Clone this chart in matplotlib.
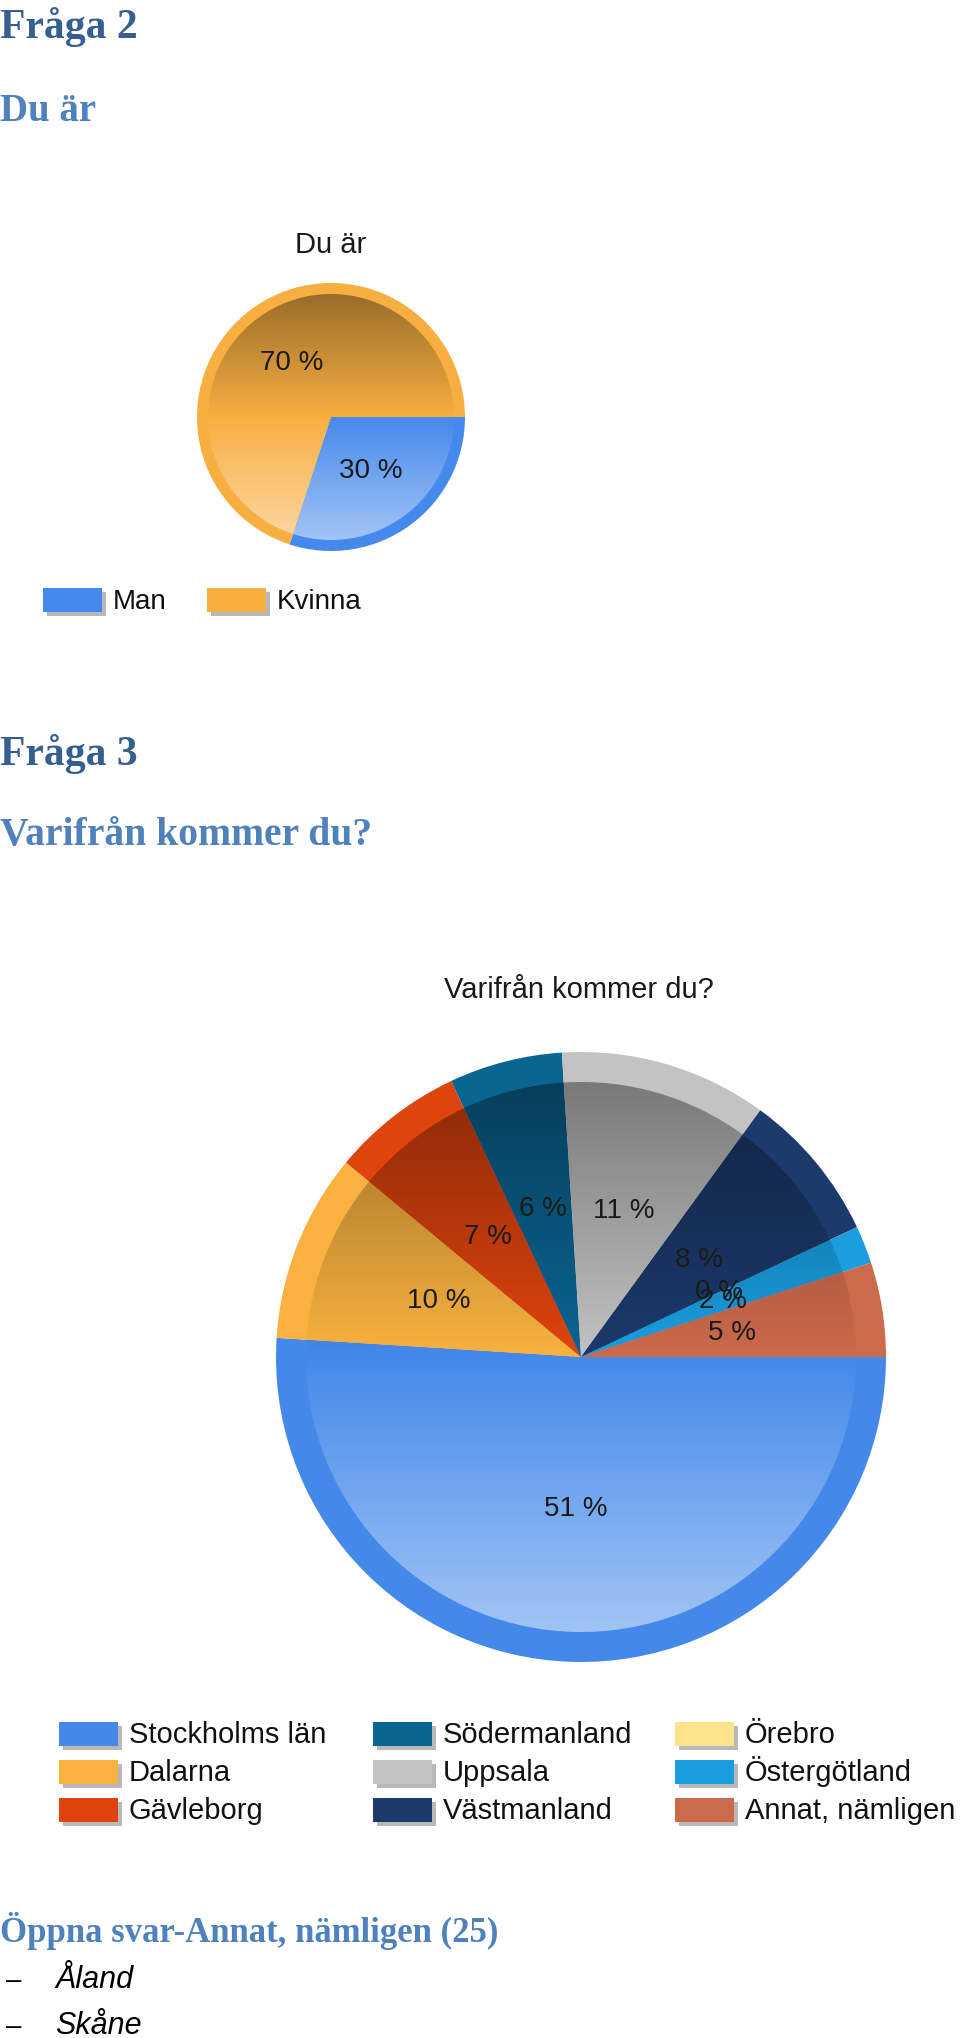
import numpy as np
import matplotlib
matplotlib.use('Agg')
import matplotlib.pyplot as plt
from matplotlib.patches import Wedge, Rectangle
from matplotlib.colors import to_rgb

# Fraga 2
sex_title = 'Du är'
sex_labels = ['Man', 'Kvinna']
sex_values = [30, 70]
sex_colors = ['#4689ec', '#f8af42']

# Fraga 3
region_title = 'Varifrån kommer du?'
region_labels = ['Stockholms län', 'Dalarna', 'Gävleborg',
                 'Södermanland', 'Uppsala', 'Västmanland',
                 'Örebro', 'Östergötland', 'Annat, nämligen']
region_values = [51, 10, 7, 6, 11, 8, 0, 2, 5]
region_colors = ['#4489ea', '#f9b23f', '#e0440e',
                 '#0b6593', '#c3c3c3', '#1c3a6c',
                 '#fde38c', '#1a9ee0', '#cc6a4c']

annat_answers = ['Åland', 'Skåne']

W, H = 960, 2038
chart_font = 'Liberation Sans'
head_font = 'Liberation Serif'


def add_pie(fig, cx, cy, r, r_in, values, colors, fs):
    R = r + 6
    ax = fig.add_axes([(cx - R) / W, 1 - (cy + R) / H, 2 * R / W, 2 * R / H])
    wedges, texts, autotexts = ax.pie(values, colors=colors, startangle=0, counterclock=False,
                                      radius=r, autopct=lambda p: '%.0f %%' % p, pctdistance=0.5,
                                      wedgeprops=dict(linewidth=0),
                                      textprops=dict(fontsize=fs, color='#1a1a1a', family=chart_font))
    rows = np.linspace(-1, 1, 512)[:, None]
    for w, c in zip(wedges, colors):
        if w.theta2 - w.theta1 < 1e-6:
            continue
        base = np.array(to_rgb(c))
        img = np.where(rows < 0, base * (1 + 0.38 * rows), base + (1 - base) * 0.5 * rows)
        img = np.clip(img, 0, 1)[:, None, :]
        clip = Wedge((0, 0), r_in, w.theta1, w.theta2, facecolor='none', edgecolor='none')
        ax.add_patch(clip)
        im = ax.imshow(img, extent=(-r_in, r_in, -r_in, r_in), origin='upper', zorder=2,
                       interpolation='bilinear', aspect='auto')
        im.set_clip_path(clip)
    for t in autotexts:
        t.set_zorder(4)
    ax.set_xlim(-R, R)
    ax.set_ylim(-R, R)
    ax.set_aspect('equal')
    ax.axis('off')
    return ax


def legend_item(ax, x, y, color, label, fs):
    ax.add_patch(Rectangle((x + 4, y + 4), 59, 24, facecolor='#7f7f7f', alpha=0.55, lw=0))
    ax.add_patch(Rectangle((x, y), 59, 24, facecolor=color, lw=0))
    ax.text(x + 70, y + 21, label, fontsize=fs, family=chart_font, color='#111111', va='baseline')


fig = plt.figure(figsize=(W / 100, H / 100), dpi=100)
bg = fig.add_axes([0, 0, 1, 1])
bg.set_xlim(0, W)
bg.set_ylim(H, 0)
bg.axis('off')

# document headings
bg.text(0, 38, 'Fråga 2', fontsize=30, family=head_font, weight='bold', color='#365f91', va='baseline')
bg.text(0, 121, 'Du är', fontsize=28, family=head_font, weight='bold', color='#4f81bd', va='baseline')
bg.text(0, 765, 'Fråga 3', fontsize=30, family=head_font, weight='bold', color='#365f91', va='baseline')
bg.text(0, 845, 'Varifrån kommer du?', fontsize=28.5, family=head_font, weight='bold', color='#4f81bd', va='baseline')
bg.text(0, 1942, 'Öppna svar-Annat, nämligen (25)', fontsize=25, family=head_font, weight='bold',
        color='#4f81bd', va='baseline')
for i, ans in enumerate(annat_answers):
    yb = 1988 + 46 * i
    bg.text(6, yb, '–', fontsize=20, family=chart_font, color='black', va='baseline')
    bg.text(55, yb, ans, fontsize=22, family=chart_font, style='italic', color='black', va='baseline')

# chart 1
bg.text(331, 253, sex_title, fontsize=21, family=chart_font, color='#1a1a1a', ha='center', va='baseline')
add_pie(fig, 331, 417, 134, 123, sex_values, sex_colors, 20)
for i, lab in enumerate(sex_labels):
    legend_item(bg, 43 + 164 * i, 588, sex_colors[i], lab, 20)

# chart 2
bg.text(579, 998, region_title, fontsize=21, family=chart_font, color='#1a1a1a', ha='center', va='baseline')
add_pie(fig, 581, 1357, 305, 275, region_values, region_colors, 20)
col_x = [59, 373, 675]
for i, lab in enumerate(region_labels):
    legend_item(bg, col_x[i // 3], 1722 + 38 * (i % 3), region_colors[i], lab, 21)

fig.savefig('out.png', dpi=100)
plt.close(fig)
